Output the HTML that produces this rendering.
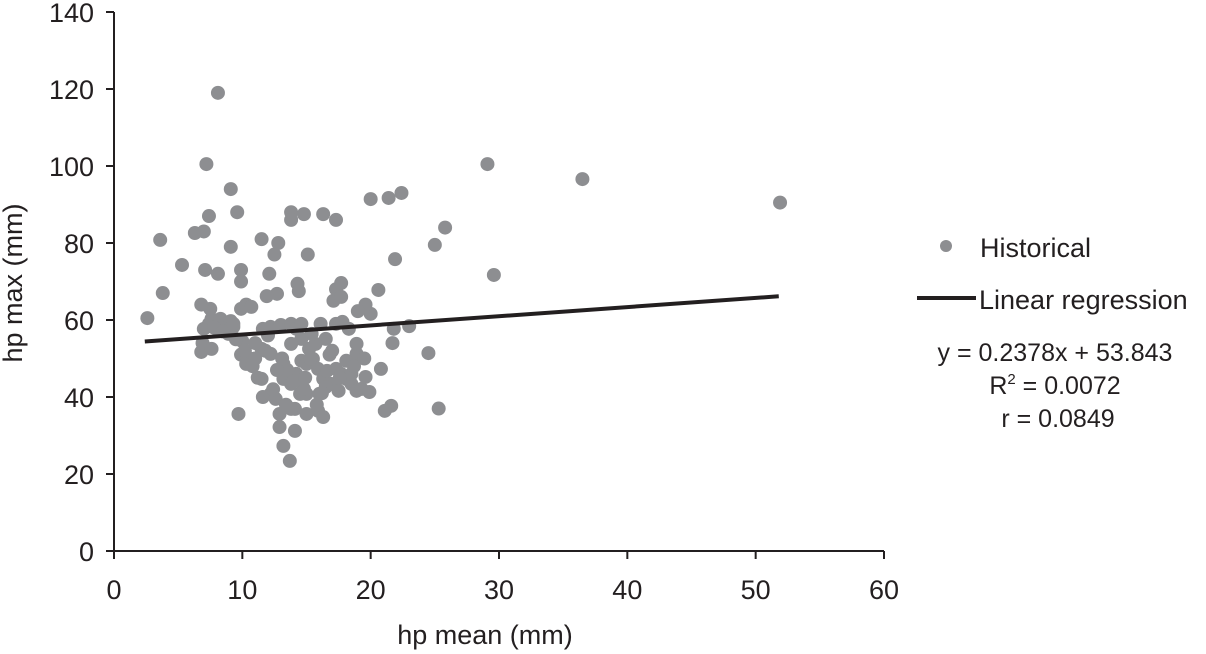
<!DOCTYPE html>
<html><head><meta charset="utf-8"><style>
html,body{margin:0;padding:0;background:#fff;}
svg{display:block;font-family:"Liberation Sans",Arial,sans-serif;}
</style></head><body>
<svg id="chart" width="1206" height="654" viewBox="0 0 1206 654">
<g id="plot"></g>
<g id="axes"></g>
<text x="13" y="283" transform="rotate(-90 13 283)" text-anchor="middle" dominant-baseline="central" font-size="27" fill="#231f20">hp max (mm)</text>
<text x="485" y="644" text-anchor="middle" font-size="27" fill="#231f20">hp mean (mm)</text>
<g>
<circle cx="946" cy="246" r="6" fill="#8d8e91"></circle>
<text x="980" y="257" font-size="27" fill="#231f20">Historical</text>
<line x1="917" y1="298" x2="976" y2="298" stroke="#231f20" stroke-width="4"></line>
<text x="979" y="309" font-size="27" fill="#231f20">Linear regression</text>
<text x="1055" y="361" text-anchor="middle" font-size="25" fill="#231f20">y = 0.2378x + 53.843</text>
<text x="1055" y="394" text-anchor="middle" font-size="25" fill="#231f20">R<tspan font-size="15" dy="-10">2</tspan><tspan dy="10"> = 0.0072</tspan></text>
<text x="1058" y="427" text-anchor="middle" font-size="25" fill="#231f20">r = 0.0849</text>
</g>
</svg>
<script>
const xTicks = [0,10,20,30,40,50,60];
const yTicks = [0,20,40,60,80,100,120,140];
const slope = 0.2378;
const intercept = 53.843;
const lineRange = [2.4, 51.8];
const xs = [2.6,3.6,3.8,5.3,6.3,7.2,8.1,7.4,9.1,9.6,9.1,7.1,8.1,9.9,9.9,7.0,11.5,12.8,12.5,12.1,13.8,13.8,14.8,16.3,17.3,15.1,20.0,21.4,22.4,25.8,25.0,29.1,29.6,36.5,51.9,20.6,21.9,23.0,21.8,21.7,24.5,20.8,25.3,21.6,21.1,17.3,17.1,17.7,14.3,14.4,20.0,19.6,19.0,17.7,12.7,11.9,
6.8,6.9,7.0,7.4,7.6,7.5,6.8,9.9,10.3,10.7,10.0,9.9,10.3,9.7,7.6,10.7,11.5,11.8,11.6,12.2,11.5,11.6,12.2,12.6,12.9,12.9,13.2,13.7,14.1,14.1,14.5,15.0,15.9,16.3,13.2,
8.3,8.7,9.1,8.9,9.3,8.0,13.0,13.8,14.2,14.6,13.8,14.2,14.6,15.0,15.5,15.9,16.3,16.6,16.9,17.3,17.7,18.1,18.5,18.9,19.3,19.6,19.9,18.9,18.1,18.9,18.3,16.5,15.7,15.2,14.6,13.8,15.4,16.1,17.3,17.8,16.0,16.5,17.5,18.5,15.0,13.8,14.8,13.2,12.2,
7.8,8.5,9.5,10.2,11.0,11.2,12.4,13.5,14.0,15.3,16.8,17.6,18.7,19.5,12.0,11.0,10.8,9.3,13.4,15.8,16.2,17.0,14.9,12.7,13.1];
const ys = [60.5,80.8,67,74.3,82.6,100.5,119,87,94,88,79,73,72,73,70,83,81,80,77,72,88,86,87.5,87.5,86,77,91.4,91.7,93,84,79.5,100.5,71.7,96.6,90.5,67.8,75.8,58.4,57.7,54,51.4,47.3,37,37.7,36.4,68,65,69.6,69.4,67.5,61.6,64,62.3,66,66.8,66.2,
51.7,54,57.7,59,60.3,62.9,64,62.9,64,63.4,54.5,51,48.6,35.6,52.5,49.9,52.5,52,57.7,58.2,44.7,40,40.8,39.5,35.6,32.2,27.3,23.4,31.2,36.9,40.8,35.6,36.4,34.8,44.7,
60.3,59,59.7,56.4,58.2,57.7,58.7,59,57.7,59,43.4,46,49.4,48.6,49.9,47.3,44.7,46.8,43.4,47.3,46,44.7,43.4,41.6,42.1,45.2,41.3,51.2,49.4,53.8,57.7,55.1,53.8,52.5,55.1,53.8,56.4,59,59,59.5,40.8,42.6,41.6,46,40.8,36.9,42.1,48.6,51.2,
58,57,55,52,50,45,42,47,44,50,51,45,48,50,56,54,48,59,38,38,41,52,45,47,50];
const NS='http://www.w3.org/2000/svg';
const X0=114,X1=884,Y0=551,Y1=12;
function sx(v){return X0+(v-0)/(60-0)*(X1-X0);}
function sy(v){return Y0-(v-0)/(140-0)*(Y0-Y1);}
function mk(tag,attrs,parent){const e=document.createElementNS(NS,tag);for(const k in attrs)e.setAttribute(k,attrs[k]);parent.appendChild(e);return e;}
const plot=document.getElementById('plot');
const axes=document.getElementById('axes');
for(let i=0;i<xs.length;i++){
  const c=mk('circle',{cx:sx(xs[i]),cy:sy(ys[i]),r:7,fill:'#8d8e91'},plot);
  
  
}
const rl=mk('line',{x1:sx(lineRange[0]),y1:sy(slope*lineRange[0]+intercept),x2:sx(lineRange[1]),y2:sy(slope*lineRange[1]+intercept),stroke:'#231f20','stroke-width':4},plot);


const xa=mk('line',{x1:X0-8,y1:Y0,x2:X1,y2:Y0,stroke:'#231f20','stroke-width':2},axes);


const ya=mk('line',{x1:X0,y1:Y1,x2:X0,y2:Y0+8,stroke:'#231f20','stroke-width':2},axes);


xTicks.forEach(t=>{
  const tk=mk('line',{x1:sx(t),y1:Y0,x2:sx(t),y2:Y0+8,stroke:'#231f20','stroke-width':2},axes);
  
  
  const tx=mk('text',{x:sx(t),y:599,'text-anchor':'middle','font-size':27,fill:'#231f20'},axes);
  tx.textContent=t;
  
  
});
yTicks.forEach(t=>{
  const tk=mk('line',{x1:X0-8,y1:sy(t),x2:X0,y2:sy(t),stroke:'#231f20','stroke-width':2},axes);
  
  
  const tx=mk('text',{x:94,y:sy(t)+10,'text-anchor':'end','font-size':27,fill:'#231f20'},axes);
  tx.textContent=t;
  
  
});
</script>
</body></html>
